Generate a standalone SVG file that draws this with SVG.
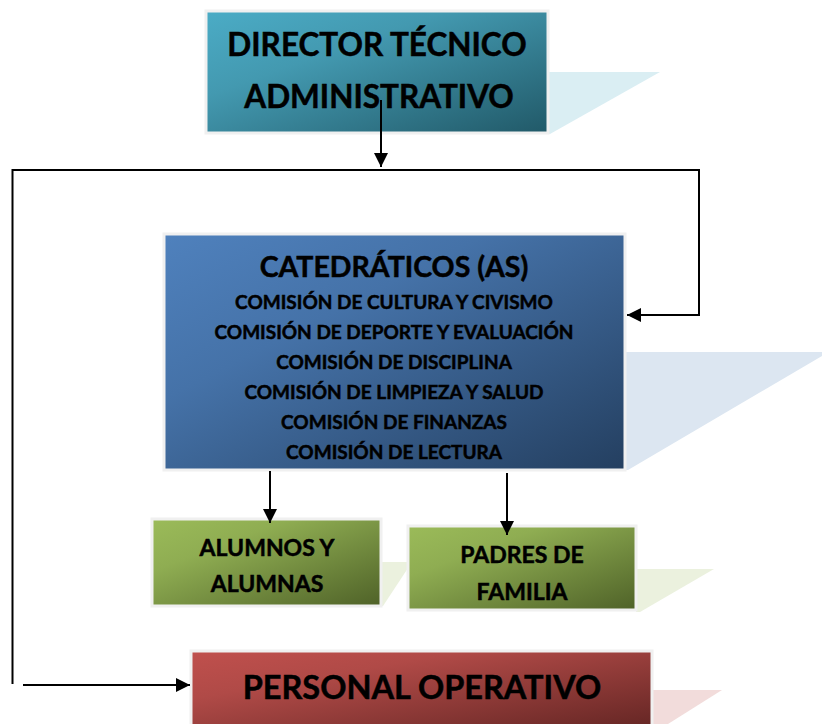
<svg xmlns="http://www.w3.org/2000/svg" width="822" height="724" viewBox="0 0 822 724">
<defs>
<linearGradient id="gTeal" x1="0" y1="0" x2="1" y2="1"><stop offset="0" stop-color="#4bacc6"/><stop offset="0.35" stop-color="#4399b0"/><stop offset="1" stop-color="#215968"/></linearGradient>
<linearGradient id="gBlue" x1="0" y1="0" x2="1" y2="1"><stop offset="0" stop-color="#4f81bd"/><stop offset="0.35" stop-color="#4572a8"/><stop offset="1" stop-color="#243f60"/></linearGradient>
<linearGradient id="gGreen" x1="0" y1="0" x2="1" y2="1"><stop offset="0" stop-color="#9bbb59"/><stop offset="0.3" stop-color="#8fad52"/><stop offset="1" stop-color="#4f6228"/></linearGradient>
<linearGradient id="gRed" x1="0" y1="0" x2="1" y2="1"><stop offset="0" stop-color="#c0504d"/><stop offset="0.3" stop-color="#b04a47"/><stop offset="1" stop-color="#632523"/></linearGradient>
<marker id="ah" viewBox="0 0 10 10" refX="10" refY="5" markerWidth="7.5" markerHeight="7" markerUnits="strokeWidth" orient="auto"><path d="M0,0 L10,5 L0,10 z" fill="#000"/></marker>
</defs>
<style>
.box{stroke:#f0f0f0;stroke-width:3}
.t{font-family:Lato,"Open Sans","Liberation Sans",sans-serif;font-weight:bold;fill:#000;stroke:#000;stroke-width:0.5;text-anchor:middle}
.ln{stroke:#000;stroke-width:2;fill:none}
</style>
<rect width="822" height="724" fill="#fff"/>

<g id="director">
<polygon points="548,72 660,72 550,134 548,134" fill="#daeef3"/>
<rect class="box" x="206" y="11" width="342" height="122" fill="url(#gTeal)"/>
<text class="t" x="377" y="56" font-size="31.5">DIRECTOR TÉCNICO</text>
<text class="t" x="379" y="108" font-size="31.5">ADMINISTRATIVO</text>
</g>

<g id="catedraticos">
<polygon points="625,352 822,352 822,356 628,470 625,470" fill="#dce6f1"/>
<rect class="box" x="164" y="234" width="461" height="236" fill="url(#gBlue)"/>
<text class="t" x="394" y="277" font-size="28.5">CATEDRÁTICOS (AS)</text>
<text class="t" x="394" y="309" font-size="19">COMISIÓN DE CULTURA Y CIVISMO</text>
<text class="t" x="394" y="339" font-size="19">COMISIÓN DE DEPORTE Y EVALUACIÓN</text>
<text class="t" x="394" y="369" font-size="19">COMISIÓN DE DISCIPLINA</text>
<text class="t" x="394" y="399" font-size="19">COMISIÓN DE LIMPIEZA Y SALUD</text>
<text class="t" x="394" y="429" font-size="19">COMISIÓN DE FINANZAS</text>
<text class="t" x="394" y="459" font-size="19">COMISIÓN DE LECTURA</text>
</g>

<g id="alumnos">
<polygon points="381,562 412,562 383,606 381,606" fill="#ebf1de"/>
<rect class="box" x="152" y="519" width="229" height="87" fill="url(#gGreen)"/>
<text class="t" x="267" y="556" font-size="23">ALUMNOS Y</text>
<text class="t" x="267" y="592" font-size="23">ALUMNAS</text>
</g>

<g id="padres">
<polygon points="636,569 714,569 640,612 636,612" fill="#ebf1de"/>
<rect class="box" x="408" y="526" width="228" height="84" fill="url(#gGreen)"/>
<text class="t" x="522" y="563" font-size="23">PADRES DE</text>
<text class="t" x="522" y="600" font-size="23">FAMILIA</text>
</g>

<g id="personal">
<polygon points="652,690 722,690 668,724 652,724" fill="#f2dcdb"/>
<rect class="box" x="191" y="651" width="461" height="80" fill="url(#gRed)"/>
<text class="t" x="422" y="699" font-size="32.5">PERSONAL OPERATIVO</text>
</g>

<g id="connectors">
<line class="ln" x1="381" y1="100" x2="381" y2="167" marker-end="url(#ah)"/>
<polyline class="ln" points="12.5,684 12.5,170 699,170 699,315 627,315" marker-end="url(#ah)"/>
<line class="ln" x1="23" y1="685" x2="190" y2="685" marker-end="url(#ah)"/>
<line class="ln" x1="270" y1="471" x2="270" y2="523" marker-end="url(#ah)"/>
<line class="ln" x1="507" y1="473" x2="507" y2="535" marker-end="url(#ah)"/>
</g>
</svg>
